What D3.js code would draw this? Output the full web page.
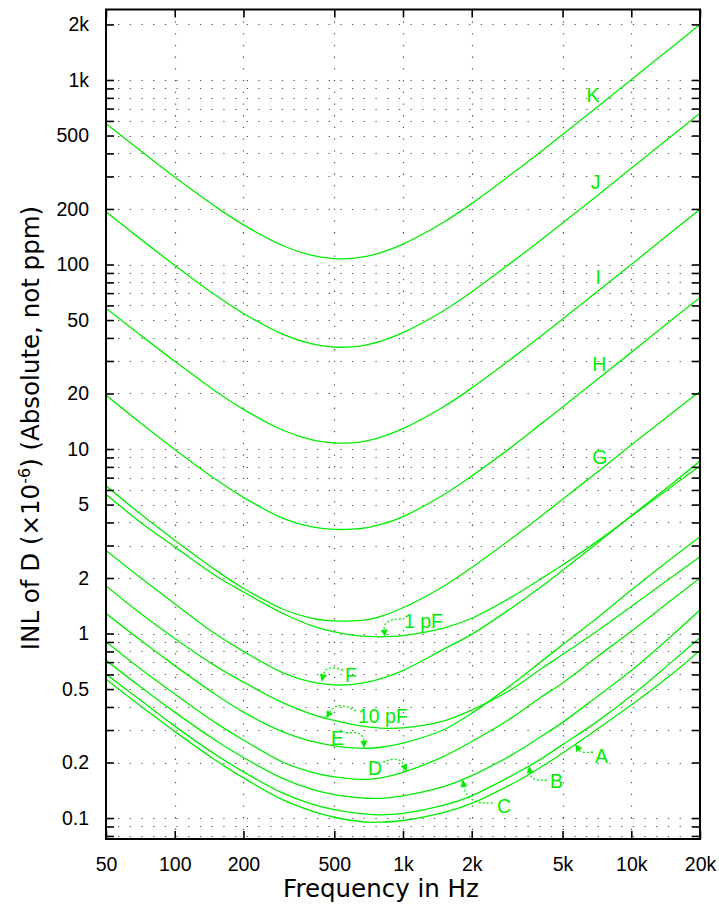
<!DOCTYPE html>
<html><head><meta charset="utf-8">
<script src="https://cdn.jsdelivr.net/npm/d3@7"></script>
<style>body{margin:0;background:#fff}svg{display:block}</style>
</head><body>
<svg id="chart" width="719" height="911"></svg>
<script>
// ---------------- data ----------------
const freqs = [50,70,100,150,200,300,400,500,600,700,800,1000,1500,2000,3000,4000,5000,7000,10000,15000,20000];
const curveK   = [580,419,298,207,164,126,112,107.7,108,111,116,129,169,214,310,407,506,704,1003,1502,2000];
const curveJ   = [193,139,99,68.5,54.3,41.7,37.1,35.7,35.8,36.8,38.4,42.7,56,71,103,135,168,233,332,497,660];
const curveI   = [58,41.9,29.9,20.7,16.4,12.6,11.2,10.8,10.8,11.1,11.6,12.9,16.9,21.4,31,40.7,50.6,70.4,100,150,199];
const curveH   = [19.6,14.0,9.95,6.9,5.47,4.2,3.78,3.67,3.68,3.75,3.9,4.3,5.63,7.13,10.3,13.6,16.9,23.5,33.4,50,66];
const curveG   = [6.32,4.5,3.2,2.22,1.76,1.35,1.21,1.17,1.17,1.19,1.24,1.38,1.8,2.28,3.28,4.3,5.35,7.4,10.5,15.6,20.5];
const curve1pF = [5.68,4.05,2.95,2.07,1.68,1.28,1.1,1.02,0.98,0.965,0.96,0.975,1.07,1.21,1.58,1.97,2.35,3.13,4.32,6.25,8.1];
const curveF   = [2.82,2.03,1.45,1.0,0.8,0.61,0.545,0.527,0.53,0.545,0.57,0.63,0.82,0.99,1.38,1.78,2.2,3.05,4.35,6.45,8.6];
const curve10pF= [1.81,1.3,0.94,0.67,0.545,0.42,0.365,0.338,0.322,0.312,0.307,0.308,0.335,0.385,0.5,0.64,0.77,1.02,1.4,2.02,2.61];
const curveE   = [1.287,0.93,0.67,0.47,0.375,0.292,0.26,0.246,0.24,0.239,0.242,0.255,0.3,0.37,0.53,0.7,0.87,1.2,1.72,2.55,3.35];
const curveD   = [0.903,0.65,0.47,0.33,0.265,0.2,0.177,0.167,0.163,0.162,0.165,0.177,0.215,0.26,0.35,0.45,0.54,0.74,1.03,1.52,2.0];
const curveC   = [0.716,0.52,0.375,0.265,0.213,0.163,0.143,0.134,0.13,0.128,0.128,0.132,0.148,0.17,0.22,0.275,0.33,0.45,0.63,0.97,1.34];
const curveB   = [0.603,0.44,0.315,0.222,0.178,0.136,0.119,0.111,0.107,0.105,0.104,0.106,0.117,0.132,0.17,0.208,0.25,0.33,0.46,0.7,0.95];
const curveA   = [0.566,0.41,0.295,0.207,0.165,0.125,0.109,0.101,0.097,0.095,0.095,0.097,0.107,0.12,0.153,0.188,0.225,0.3,0.41,0.6,0.81];
const seriesNames = ["K","J","I","H","G","1 pF","F","10 pF","E","D","C","B","A"];
const seriesValues = [curveK,curveJ,curveI,curveH,curveG,curve1pF,curveF,curve10pF,curveE,curveD,curveC,curveB,curveA];

const xDomain = [50, 20000];
const yDomain = [0.077, 2410];
const xTicks = [50,100,200,500,1000,2000,5000,10000,20000];
const xTickLabels = ["50","100","200","500","1k","2k","5k","10k","20k"];
const yTicks = [0.1,0.2,0.5,1,2,5,10,20,50,100,200,500,1000,2000];
const yTickLabels = ["0.1","0.2","0.5","1","2","5","10","20","50","100","200","500","1k","2k"];
const yMinorTicks = [0.08,0.09,0.1,0.2,0.3,0.4,0.5,0.6,0.7,0.8,0.9,1,2,3,4,5,6,7,8,9,10,20,30,40,50,60,70,80,90,100,200,300,400,500,600,700,800,900,1000,2000];

// curve labels placed at (frequency, value)
const curveLabels = [
  {text:"K", f:6800, v:830},
  {text:"J", f:6980, v:281},
  {text:"I", f:7170, v:86},
  {text:"H", f:7240, v:28.9},
  {text:"G", f:7290, v:9.0}
];
// arrow annotations: text start (tf,tv), arrow start (sf,sv), arrow tip (ef,ev)
const arrowNotes = [
  {text:"1 pF", tf:1010, tv:1.07, sf:980, sv:1.2, ef:834, ev:0.957, bend:-0.55},
  {text:"F", tf:557, tv:0.548, sf:546, sv:0.634, ef:440, ev:0.548, bend:-0.55},
  {text:"10 pF", tf:635, tv:0.327, sf:622, sv:0.38, ef:460, ev:0.347, bend:-0.5},
  {text:"E", tf:484, tv:0.249, sf:562, sv:0.289, ef:676, ev:0.239, bend:0.55},
  {text:"D", tf:702, tv:0.171, sf:817, sv:0.201, ef:1038, ev:0.178, bend:0.5},
  {text:"C", tf:2580, tv:0.106, sf:2477, sv:0.1206, ef:1826, ev:0.162, bend:0.45},
  {text:"B", tf:4404, tv:0.1454, sf:4271, sv:0.1607, ef:3573, ev:0.192, bend:0.5},
  {text:"A", tf:6934, tv:0.1987, sf:6795, sv:0.228, ef:5667, ev:0.252, bend:0.3}
];

// ---------------- drawing ----------------
const svg = d3.select("#chart");
const pL = 106, pR = 700, pT = 9.5, pB = 839;
const green = "#00ee00";
const tickFont = "'Liberation Sans', Arial, Helvetica, sans-serif";
const labelFont = "'DejaVu Sans', Verdana, sans-serif";

const x = d3.scaleLog().domain(xDomain).range([pL, pR]);
const y = d3.scaleLog().domain(yDomain).range([pB, pT]);

svg.append("rect").attr("width",719).attr("height",911).attr("fill","#fff");

// grid
const yTickVals = yMinorTicks.filter(t=>t>yDomain[0]&&t<yDomain[1]);
svg.append("g").attr("stroke","#555").attr("stroke-width",1.2).attr("stroke-dasharray","1.3,10.4")
  .selectAll("line").data(yTickVals).join("line")
  .attr("x1",pL+12).attr("x2",pR).attr("y1",d=>Math.round(y(d))+0.5).attr("y2",d=>Math.round(y(d))+0.5);
svg.append("g").attr("stroke","#555").attr("stroke-width",1.2).attr("stroke-dasharray","1.3,10.4")
  .selectAll("line").data(xTicks.slice(1,-1)).join("line")
  .attr("x1",d=>Math.round(x(d))+0.5).attr("x2",d=>Math.round(x(d))+0.5).attr("y1",pT+12).attr("y2",pB);

// curves
svg.append("defs").append("clipPath").attr("id","clip").append("rect")
  .attr("x",pL).attr("y",pT).attr("width",pR-pL).attr("height",pB-pT);
const line = d3.line().x(d=>x(d[0])).y(d=>y(d[1])).curve(d3.curveCatmullRom.alpha(0.5));
svg.append("g").attr("clip-path","url(#clip)").selectAll("path").data(seriesValues).join("path")
  .attr("d", vals => line(freqs.map((f,i)=>[f, vals[i]])))
  .attr("fill","none").attr("stroke",green).attr("stroke-width",1.3);

// frame
svg.append("rect").attr("x",pL).attr("y",pT).attr("width",pR-pL).attr("height",pB-pT)
  .attr("fill","none").attr("stroke","#000").attr("stroke-width",2);

// axes (ticks inward, labels)
const tickLen = 8;
const xAxisB = d3.axisBottom(x).tickValues(xTicks).tickFormat((d,i)=>xTickLabels[i]).tickSizeInner(-tickLen).tickSizeOuter(0).tickPadding(tickLen+10);
const gxb = svg.append("g").attr("transform",`translate(0,${pB})`).call(xAxisB);
const xAxisT = d3.axisTop(x).tickValues(xTicks).tickFormat("").tickSizeInner(-tickLen).tickSizeOuter(0);
const gxt = svg.append("g").attr("transform",`translate(0,${pT})`).call(xAxisT);
const yAxisL = d3.axisLeft(y).tickValues(yTickVals).tickFormat(d=>{const k=yTicks.indexOf(d);return k>=0?yTickLabels[k]:"";}).tickSizeInner(-tickLen).tickSizeOuter(0).tickPadding(tickLen+9);
const gyl = svg.append("g").attr("transform",`translate(${pL},0)`).call(yAxisL);
const yAxisR = d3.axisRight(y).tickValues(yTickVals).tickFormat("").tickSizeInner(-tickLen).tickSizeOuter(0);
const gyr = svg.append("g").attr("transform",`translate(${pR},0)`).call(yAxisR);
[gxb,gxt,gyl,gyr].forEach(g=>{
  g.select(".domain").remove();
  g.selectAll(".tick line").attr("stroke","#000").attr("stroke-width",1.6);
  g.selectAll(".tick text").attr("fill","#000").style("font-family",tickFont).style("font-size","19.5px");
});
gxb.selectAll(".tick text").attr("dy","0.71em");

// axis titles
svg.append("text").attr("x",381).attr("y",897).attr("text-anchor","middle")
  .style("font-family",labelFont).style("font-size","24.5px").attr("fill","#000").text("Frequency in Hz");
const yl = svg.append("text").attr("transform","translate(39,428) rotate(-90)").attr("text-anchor","middle")
  .style("font-family",labelFont).style("font-size","24.5px").attr("fill","#000");
yl.append("tspan").text("INL of D (\u00d710");
yl.append("tspan").attr("dy",-9).style("font-size","16px").text("-6");
yl.append("tspan").attr("dy",9).text(") (Absolute, not ppm)");

// curve labels
svg.append("g").selectAll("text").data(curveLabels).join("text")
  .attr("x",d=>x(d.f)).attr("y",d=>y(d.v)).attr("text-anchor","middle").attr("dominant-baseline","central")
  .style("font-family",tickFont).style("font-size","19.5px").attr("fill",green).text(d=>d.text);

// arrow annotations
const ann = svg.append("g");
arrowNotes.forEach(a=>{
  const sx=x(a.sf), sy=y(a.sv), ex=x(a.ef), ey=y(a.ev);
  const dx=ex-sx, dy=ey-sy;
  const cx=(sx+ex)/2 + a.bend*dy, cy=(sy+ey)/2 - a.bend*dx;
  const tx=ex-cx, ty=ey-cy, L=Math.hypot(tx,ty), ux=tx/L, uy=ty/L;
  const hl=7.5, hw=3.5;
  const bx=ex-ux*hl, by=ey-uy*hl;
  ann.append("path").attr("d",`M${sx},${sy}Q${cx},${cy} ${bx},${by}`)
    .attr("fill","none").attr("stroke",green).attr("stroke-width",1.3).attr("stroke-dasharray","2,2");
  ann.append("path").attr("d",`M${ex},${ey}L${bx-uy*hw},${by+ux*hw}L${bx+uy*hw},${by-ux*hw}Z`).attr("fill",green);
  ann.append("text").attr("x",x(a.tf)).attr("y",y(a.tv)).style("font-family",tickFont).style("font-size","19.5px")
    .attr("fill",green).text(a.text);
});
</script>
</body></html>
